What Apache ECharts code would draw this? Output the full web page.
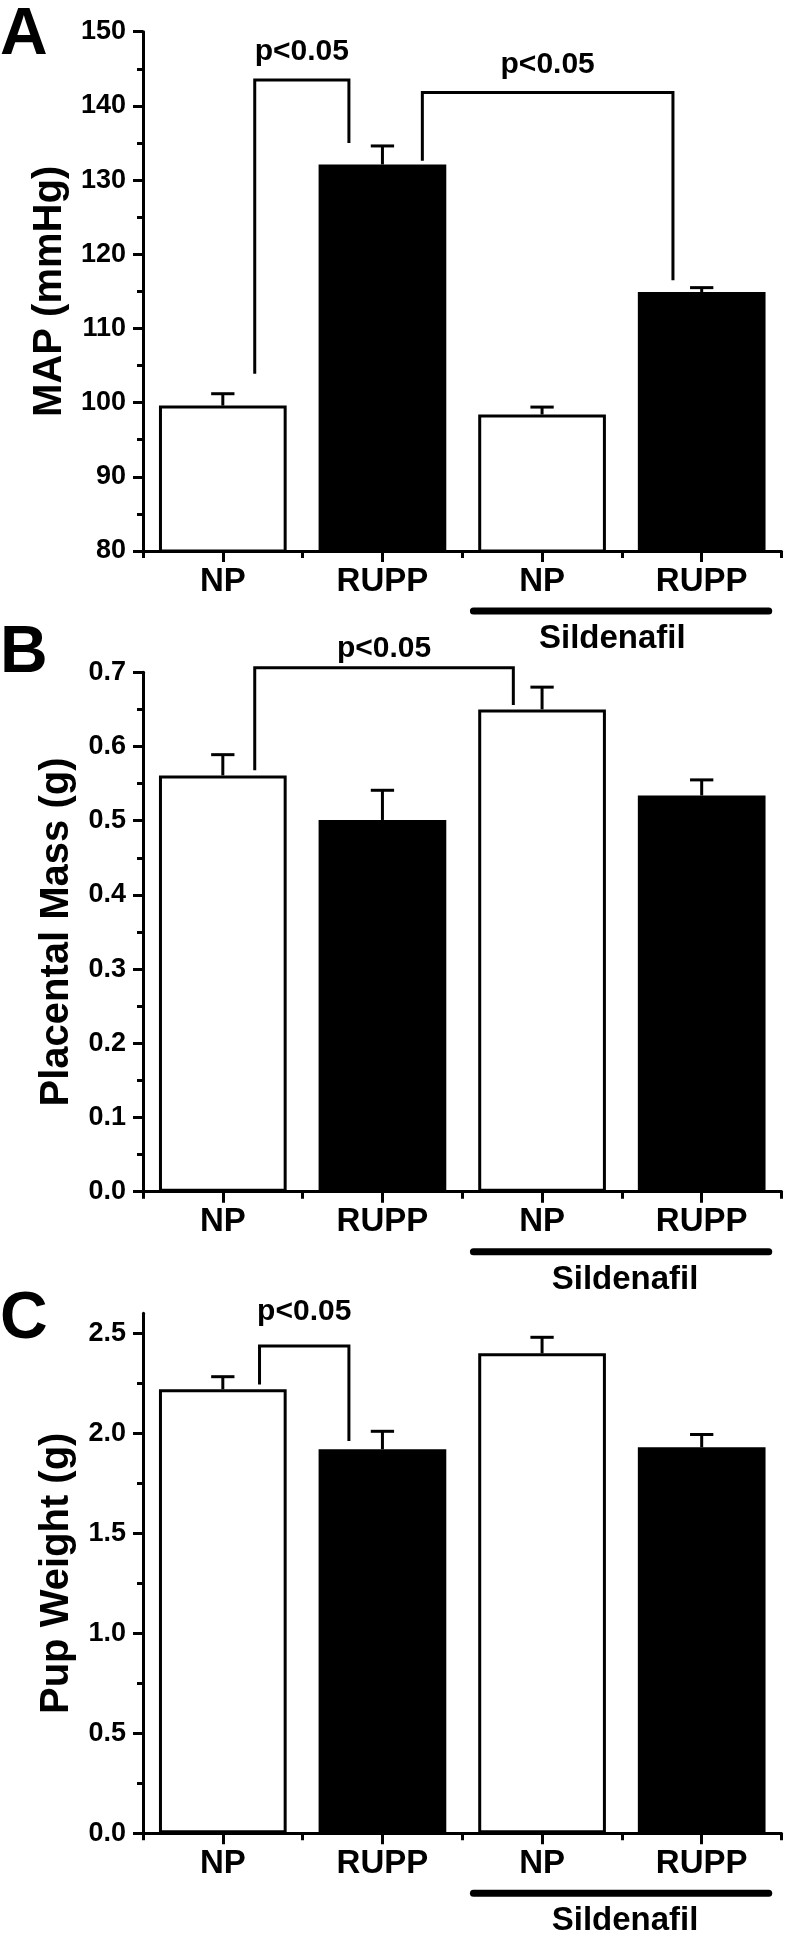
<!DOCTYPE html>
<html>
<head>
<meta charset="utf-8">
<title>MAP, placental mass and pup weight</title>
<script src="https://cdn.jsdelivr.net/npm/echarts@6/dist/echarts.min.js"></script>
<style>
  html, body { margin: 0; padding: 0; background: #fff; }
  #chart { width: 785px; height: 1950px; }
</style>
</head>
<body>
<div id="chart"></div>
<script>
// groups on the x axis, the last two got Sildenafil
const categories = ['NP', 'RUPP', 'NP', 'RUPP'];
const barFill = ['#fff', '#000', '#fff', '#000'];

// A: mean arterial pressure (mmHg), mean + SEM
const mapMean = [99.6, 132.1, 98.4, 114.9];
const mapSem = [1.6, 2.5, 1.0, 0.6];
// B: placental mass (g)
const placentaMean = [0.561, 0.501, 0.65, 0.534];
const placentaSem = [0.028, 0.04, 0.03, 0.021];
// C: pup weight (g)
const pupMean = [2.22, 1.92, 2.40, 1.93];
const pupSem = [0.063, 0.09, 0.08, 0.064];

// y tick labels
const mapTicks = [80, 90, 100, 110, 120, 130, 140, 150];
const placentaTicks = [0, 0.1, 0.2, 0.3, 0.4, 0.5, 0.6, 0.7];
const pupTicks = [0, 0.5, 1.0, 1.5, 2.0, 2.5];
const pupMax = 2.6;

// p<0.05 brackets: x ends in category units, y = [left foot, top, right foot], label height
const mapBracketX = [[0.2, 0.79], [1.25, 2.82]];
const mapBracketY = [[103.9, 143.5, 135.0], [132.6, 141.8, 116.5]];
const mapBracketLabelY = [147.3, 145.6];
const placentaBracketX = [[0.2, 1.82]];
const placentaBracketY = [[0.568, 0.706, 0.656]];
const placentaBracketLabelY = [0.732];
const pupBracketX = [[0.23, 0.79]];
const pupBracketY = [[2.244, 2.436, 1.961]];
const pupBracketLabelY = [2.608];

const FONT = '"Liberation Sans", Arial, Helvetica, sans-serif';

const panels = [
  { letter: 'A', name: 'MAP (mmHg)', mean: mapMean, sem: mapSem, ticks: mapTicks, max: 150, digits: 0,
    bx: mapBracketX, by: mapBracketY, ly: mapBracketLabelY, top: 31.7, height: 519.3, letterY: 36, sildX: 2.44 },
  { letter: 'B', name: 'Placental Mass (g)', mean: placentaMean, sem: placentaSem, ticks: placentaTicks, max: 0.7, digits: 1,
    bx: placentaBracketX, by: placentaBracketY, ly: placentaBracketLabelY, top: 672.3, height: 519.4, letterY: 654, sildX: 2.52 },
  { letter: 'C', name: 'Pup Weight (g)', mean: pupMean, sem: pupSem, ticks: pupTicks, max: pupMax, digits: 1,
    bx: pupBracketX, by: pupBracketY, ly: pupBracketLabelY, top: 1313.3, height: 520, letterY: 1320, sildX: 2.52 }
];

const black = { color: '#000', width: 3 };

function minorOf(ticks) {
  const out = [];
  for (let i = 0; i < ticks.length - 1; i++) out.push((ticks[i] + ticks[i + 1]) / 2);
  return out;
}

const grid = [], xAxis = [], yAxis = [], series = [], graphic = [];

panels.forEach(function (p, k) {
  const min = p.ticks[0];
  const last = p.ticks[p.ticks.length - 1];
  grid.push({ left: 143, top: p.top, width: 638.5, height: p.height });

  // main x axis: ticks under the labels
  xAxis.push({
    type: 'category', gridIndex: k, position: 'bottom', data: categories,
    axisLine: { show: true, lineStyle: black },
    axisTick: { show: true, alignWithLabel: true, length: 11, lineStyle: black },
    axisLabel: { color: '#000', fontSize: 33, fontWeight: 'bold', fontFamily: FONT, margin: 14 }
  });
  // second x axis only for the short ticks between groups
  xAxis.push({
    type: 'category', gridIndex: k, position: 'bottom', data: categories,
    axisLine: { show: false },
    axisTick: { show: true, length: 7, lineStyle: black },
    axisLabel: { show: false }
  });

  yAxis.push({
    type: 'value', gridIndex: k, position: 'left', min: min, max: p.max, interval: p.ticks[1] - p.ticks[0],
    name: p.name, nameLocation: 'middle', nameRotate: 90, nameGap: 66,
    nameTextStyle: { color: '#000', fontSize: 40, fontWeight: 'bold', fontFamily: FONT },
    axisLine: { show: true, lineStyle: black },
    axisTick: { show: true, length: 10, lineStyle: black, customValues: p.ticks },
    axisLabel: {
      show: true, margin: 17, color: '#000', fontSize: 27, fontWeight: 'bold', fontFamily: FONT,
      formatter: function (v) { return v > last + 1e-9 ? '' : v.toFixed(p.digits); }
    },
    splitLine: { show: false }
  });
  // minor ticks
  yAxis.push({
    type: 'value', gridIndex: k, position: 'left', min: min, max: p.max,
    axisLine: { show: false },
    axisTick: { show: true, length: 6, lineStyle: black, customValues: minorOf(p.ticks) },
    axisLabel: { show: false },
    splitLine: { show: false }
  });

  series.push({
    type: 'bar', xAxisIndex: 2 * k, yAxisIndex: 2 * k, barWidth: '80%',
    data: p.mean.map(function (v, i) {
      return { value: v, itemStyle: { color: barFill[i], borderColor: '#000', borderWidth: 3 } };
    })
  });

  // error bars (upper half only)
  series.push({
    type: 'custom', xAxisIndex: 2 * k, yAxisIndex: 2 * k, clip: false, z: 3,
    data: p.mean.map(function (v, i) { return [i, v, v + p.sem[i]]; }),
    renderItem: function (params, api) {
      const i = api.value(0);
      const base = api.coord([i, api.value(1)]);
      const top = api.coord([i, api.value(2)]);
      const half = api.size([1, 0])[0] * 0.073;
      const st = { stroke: '#000', lineWidth: 3 };
      return { type: 'group', children: [
        { type: 'line', shape: { x1: base[0], y1: base[1], x2: top[0], y2: top[1] }, style: st },
        { type: 'line', shape: { x1: top[0] - half, y1: top[1], x2: top[0] + half, y2: top[1] }, style: st }
      ] };
    }
  });

  // significance brackets
  series.push({
    type: 'custom', xAxisIndex: 2 * k, yAxisIndex: 2 * k, clip: false, z: 4,
    data: p.bx.map(function (x, j) { return [0, p.by[j][1]]; }),
    renderItem: function (params, api) {
      const j = params.dataIndex;
      const band = api.size([1, 0])[0];
      const x0 = api.coord([0, min])[0];
      const xl = x0 + p.bx[j][0] * band;
      const xr = x0 + p.bx[j][1] * band;
      const yl = api.coord([0, p.by[j][0]])[1];
      const yt = api.coord([0, p.by[j][1]])[1];
      const yr = api.coord([0, p.by[j][2]])[1];
      const yt2 = api.coord([0, p.ly[j]])[1];
      return { type: 'group', children: [
        { type: 'polyline', shape: { points: [[xl, yl], [xl, yt], [xr, yt], [xr, yr]] },
          style: { stroke: '#000', lineWidth: 3, fill: null } },
        { type: 'text', x: (xl + xr) / 2, y: yt2,
          style: { text: 'p<0.05', fill: '#000', fontSize: 30, fontWeight: 'bold', fontFamily: FONT,
                   align: 'center', verticalAlign: 'middle' } }
      ] };
    }
  });

  // Sildenafil group bar under the last two categories
  series.push({
    type: 'custom', xAxisIndex: 2 * k, yAxisIndex: 2 * k, clip: false, z: 4,
    data: [[2, min]],
    renderItem: function (params, api) {
      const band = api.size([1, 0])[0];
      const a = api.coord([2, min]);
      const b = api.coord([3, min]);
      const x0 = api.coord([0, min])[0];
      return { type: 'group', children: [
        { type: 'line', shape: { x1: a[0] - 0.43 * band, y1: a[1] + 60, x2: b[0] + 0.42 * band, y2: a[1] + 60 },
          style: { stroke: '#000', lineWidth: 7, lineCap: 'round' } },
        { type: 'text', x: x0 + p.sildX * band, y: a[1] + 88,
          style: { text: 'Sildenafil', fill: '#000', fontSize: 33, fontWeight: 'bold', fontFamily: FONT,
                   align: 'center', verticalAlign: 'middle' } }
      ] };
    }
  });

  graphic.push({
    type: 'text', x: 0, y: p.letterY,
    style: { text: p.letter, fill: '#000', fontSize: 66, fontWeight: 'bold', fontFamily: FONT,
             align: 'left', verticalAlign: 'middle' }
  });
});

const chart = echarts.init(document.getElementById('chart'));
chart.setOption({
  animation: false,
  backgroundColor: '#fff',
  grid: grid,
  xAxis: xAxis,
  yAxis: yAxis,
  series: series,
  graphic: graphic
});
</script>
</body>
</html>
